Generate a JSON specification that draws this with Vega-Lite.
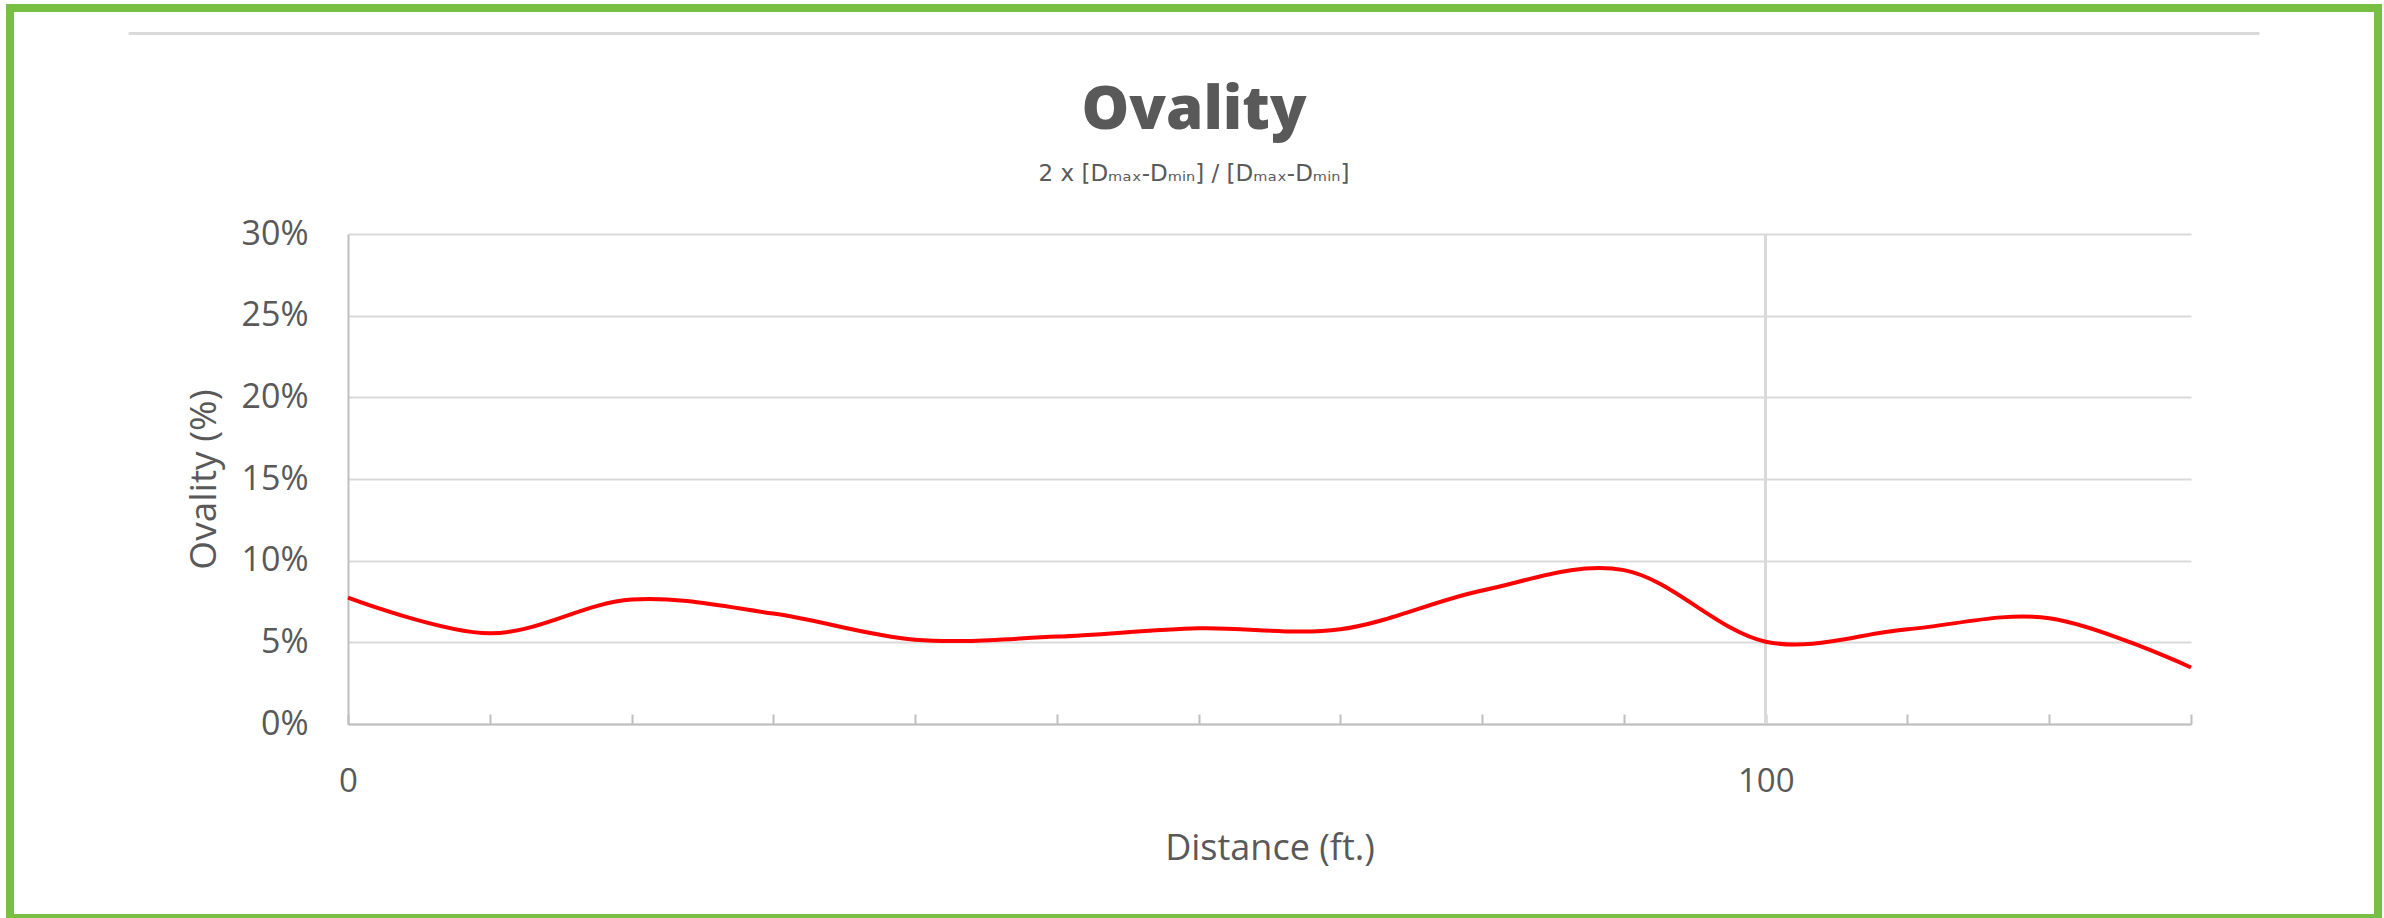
{
  "$schema": "https://vega.github.io/schema/vega-lite/v6.json",
  "width": 2368,
  "height": 910,
  "autosize": {"type": "none"},
  "padding": {"left": 10, "top": 8, "right": 6, "bottom": 0},
  "background": "white",
  "title": {
    "text": "Ovality",
    "subtitle": "2 x [Dₘₐₓ-Dₘᵢₙ] / [Dₘₐₓ-Dₘᵢₙ]",
    "anchor": "middle",
    "frame": "group",
    "offset": -179,
    "font": "Open Sans",
    "fontSize": 60,
    "fontWeight": 800,
    "color": "#595959",
    "subtitleFont": "DejaVu Sans",
    "subtitleFontSize": 23,
    "subtitleColor": "#595959",
    "subtitlePadding": 21
  },
  "data": {
    "values": [
      {"distance": 0, "ovality": 0.0773},
      {"distance": 10, "ovality": 0.0555},
      {"distance": 20, "ovality": 0.0762},
      {"distance": 30, "ovality": 0.0676},
      {"distance": 40, "ovality": 0.0516},
      {"distance": 50, "ovality": 0.0535},
      {"distance": 60, "ovality": 0.0586},
      {"distance": 70, "ovality": 0.0580},
      {"distance": 80, "ovality": 0.0817},
      {"distance": 90, "ovality": 0.0942},
      {"distance": 100, "ovality": 0.0504},
      {"distance": 110, "ovality": 0.0580},
      {"distance": 120, "ovality": 0.0648},
      {"distance": 130, "ovality": 0.0346}
    ]
  },
  "encoding": {
    "x": {
      "field": "distance",
      "type": "quantitative",
      "scale": {"domain": [0, 130], "range": [338, 2181], "nice": false, "zero": false},
      "axis": {
        "title": "Distance (ft.)",
        "values": [0, 10, 20, 30, 40, 50, 60, 70, 80, 90, 100, 110, 120, 130],
        "labelExpr": "datum.value % 100 === 0 ? datum.label : ''",
        "labelOverlap": false,
        "labelFlush": false,
        "offset": -194,
        "tickSize": -10,
        "tickColor": "#bfbfbf",
        "tickWidth": 2,
        "domainColor": "#bfbfbf",
        "domainWidth": 2,
        "grid": false,
        "labelPadding": 51,
        "labelFontSize": 33,
        "labelColor": "#595959",
        "labelFont": "Open Sans",
        "titleFont": "Open Sans",
        "titleFontSize": 36,
        "titleFontWeight": "normal",
        "titleColor": "#595959",
        "titlePadding": 33
      }
    },
    "y": {
      "field": "ovality",
      "type": "quantitative",
      "scale": {"domain": [0, 0.3], "range": [716, 226], "nice": false},
      "axis": {
        "title": "Ovality (%)",
        "values": [0, 0.05, 0.1, 0.15, 0.2, 0.25, 0.3],
        "format": ".0%",
        "offset": -338,
        "ticks": false,
        "domainColor": "#bfbfbf",
        "domainWidth": 2,
        "grid": true,
        "gridColor": "#d9d9d9",
        "gridWidth": 2,
        "labelPadding": 40,
        "labelFontSize": 34,
        "labelColor": "#595959",
        "labelFont": "Open Sans",
        "titleFont": "Open Sans",
        "titleFontSize": 37,
        "titleFontWeight": "normal",
        "titleColor": "#595959",
        "titlePadding": 18
      }
    }
  },
  "layer": [
    {
      "mark": {"type": "rule", "color": "#d9d9d9", "strokeWidth": 3, "clip": false},
      "encoding": {
        "x": {"datum": -15.45},
        "x2": {"datum": 134.8},
        "y": {"datum": 0.4228}
      }
    },
    {
      "mark": {"type": "rule", "color": "#d9d9d9", "strokeWidth": 2},
      "encoding": {
        "x": {"datum": 100},
        "y": {"datum": 0},
        "y2": {"datum": 0.3}
      }
    },
    {
      "mark": {"type": "line", "interpolate": "cardinal", "color": "#ff0000", "strokeWidth": 4, "clip": false}
    }
  ],
  "config": {
    "view": {"stroke": "#77c043", "strokeWidth": 8}
  }
}
